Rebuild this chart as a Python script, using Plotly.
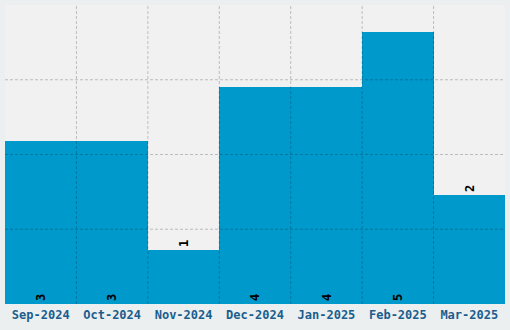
import plotly.graph_objects as go

categories = ["Sep-2024", "Oct-2024", "Nov-2024", "Dec-2024", "Jan-2025", "Feb-2025", "Mar-2025"]
values = [3, 3, 1, 4, 4, 5, 2]
text_positions = ["inside", "inside", "outside", "inside", "inside", "inside", "outside"]

y_max = 5.5
grid_color = "rgba(0,0,0,0.22)"

fig = go.Figure(go.Bar(
    x=categories, y=values, text=[str(v) for v in values],
    textposition=text_positions, insidetextanchor="start",
    textangle=-90, constraintext="none", cliponaxis=False,
    textfont=dict(family="DejaVu Sans Mono", size=12, color="#000000", weight="bold"),
    marker=dict(color="#0099cc", line=dict(width=0)),
    width=1.0,
))

shapes = []
for i in range(len(categories) - 1):
    shapes.append(dict(type="line", xref="x", yref="paper", x0=i + 0.5, x1=i + 0.5,
                       y0=0, y1=1, layer="above",
                       line=dict(color=grid_color, width=1, dash="3px,2px")))
for k in (1, 2, 3):
    shapes.append(dict(type="line", xref="paper", yref="y", x0=0, x1=1,
                       y0=y_max * k / 4, y1=y_max * k / 4, layer="above",
                       line=dict(color=grid_color, width=1, dash="3px,2px")))

fig.update_layout(
    width=510, height=330,
    margin=dict(l=5, r=5, t=5, b=26),
    paper_bgcolor="#eceff0", plot_bgcolor="#f1f1f1",
    showlegend=False, bargap=0,
    shapes=shapes,
    xaxis=dict(showgrid=False, zeroline=False, showline=False, ticks="",
               range=[-0.5, len(categories) - 0.5], ticklabelstandoff=2,
               tickfont=dict(family="DejaVu Sans Mono", size=12, color="#1a5e8e", weight="bold")),
    yaxis=dict(range=[0, y_max], showgrid=False, zeroline=False, showticklabels=False, ticks=""),
)

fig.write_html("out.html")
